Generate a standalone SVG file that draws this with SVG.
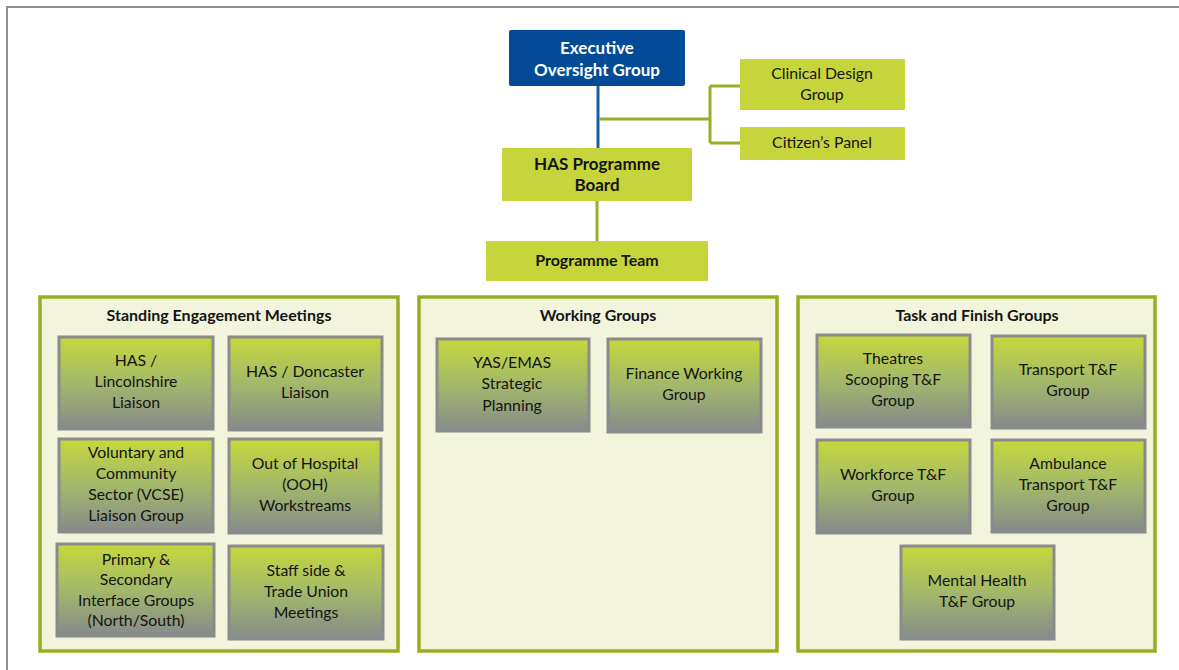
<svg xmlns="http://www.w3.org/2000/svg" width="1179" height="670" viewBox="0 0 1179 670">
<defs>
<linearGradient id="g" x1="0" y1="0" x2="0" y2="1">
<stop offset="0" stop-color="#c6d83c"/>
<stop offset="0.5" stop-color="#a3b86a"/>
<stop offset="1" stop-color="#878a8b"/>
</linearGradient>
<style>
.t{font-family:Lato,"Liberation Sans",sans-serif;font-size:15.8px;fill:#141414;text-anchor:middle}
.b{font-weight:bold;font-size:16px}
.h{font-size:17px}
.w{fill:#ffffff}
.top{fill:#c5d53b}
.panel{fill:#f2f5dc;stroke:#9aad22;stroke-width:3.5}
.box{fill:url(#g);stroke:#8a8b8c;stroke-width:3}
.conn{fill:none;stroke:#9aad2a;stroke-width:3}
</style>
</defs>
<rect width="1179" height="670" fill="#ffffff"/>
<path d="M7,670 V7 H1179" fill="none" stroke="#8c8f92" stroke-width="2"/>

<g id="connectors">
<line x1="598" y1="86" x2="598" y2="148" stroke="#1f5aa6" stroke-width="3"/>
<path class="conn" d="M599,119 H710 M710,86 V143 M710,86 H740 M710,143 H740"/>
<line class="conn" x1="597" y1="201" x2="597" y2="241"/>
</g>

<g id="exec">
<rect x="509" y="30" width="176" height="56" rx="2" fill="#034a97"/>
<text class="t b h w" x="597" y="54">Executive</text>
<text class="t b h w" x="597" y="76">Oversight Group</text>
</g>
<g id="clinical">
<rect class="top" x="740" y="59" width="165" height="51" rx="1"/>
<text class="t" x="822" y="79">Clinical Design</text>
<text class="t" x="822" y="100">Group</text>
</g>
<g id="citizens">
<rect class="top" x="740" y="127" width="165" height="33" rx="1"/>
<text class="t" x="822" y="148">Citizen’s Panel</text>
</g>
<g id="board">
<rect class="top" x="502" y="148" width="190" height="53" rx="1"/>
<text class="t b h" x="597" y="170">HAS Programme</text>
<text class="t b h" x="597" y="191">Board</text>
</g>
<g id="team">
<rect class="top" x="486" y="241" width="222" height="40" rx="1"/>
<text class="t b" x="597" y="266" font-size="16.5">Programme Team</text>
</g>

<g id="panel-standing">
<rect class="panel" x="40" y="297" width="358" height="354"/>
<text class="t b" x="219" y="321">Standing Engagement Meetings</text>
</g>
<g id="panel-working">
<rect class="panel" x="419" y="297" width="358" height="354"/>
<text class="t b" x="598" y="321">Working Groups</text>
</g>
<g id="panel-task">
<rect class="panel" x="798" y="297" width="357" height="354"/>
<text class="t b" x="977" y="321">Task and Finish Groups</text>
</g>

<g id="lincolnshire">
<rect class="box" x="59" y="337" width="154" height="92"/>
<text class="t" x="136" y="366">HAS /</text>
<text class="t" x="136" y="387">Lincolnshire</text>
<text class="t" x="136" y="408">Liaison</text>
</g>
<g id="doncaster">
<rect class="box" x="229" y="337" width="153" height="93"/>
<text class="t" x="305" y="377">HAS / Doncaster</text>
<text class="t" x="305" y="398">Liaison</text>
</g>
<g id="vcse">
<rect class="box" x="59" y="439" width="154" height="93"/>
<text class="t" x="136" y="458">Voluntary and</text>
<text class="t" x="136" y="479">Community</text>
<text class="t" x="136" y="500">Sector (VCSE)</text>
<text class="t" x="136" y="521">Liaison Group</text>
</g>
<g id="ooh">
<rect class="box" x="229" y="439" width="152" height="94"/>
<text class="t" x="305" y="469">Out of Hospital</text>
<text class="t" x="305" y="490">(OOH)</text>
<text class="t" x="305" y="511">Workstreams</text>
</g>
<g id="primary">
<rect class="box" x="57" y="544" width="157" height="92"/>
<text class="t" x="136" y="565">Primary &amp;</text>
<text class="t" x="136" y="585">Secondary</text>
<text class="t" x="136" y="606">Interface Groups</text>
<text class="t" x="136" y="626">(North/South)</text>
</g>
<g id="staffside">
<rect class="box" x="229" y="546" width="154" height="93"/>
<text class="t" x="306" y="576">Staff side &amp;</text>
<text class="t" x="306" y="597">Trade Union</text>
<text class="t" x="306" y="618">Meetings</text>
</g>

<g id="yas">
<rect class="box" x="437" y="339" width="152" height="92"/>
<text class="t" x="512" y="368">YAS/EMAS</text>
<text class="t" x="512" y="389">Strategic</text>
<text class="t" x="512" y="411">Planning</text>
</g>
<g id="finance">
<rect class="box" x="608" y="339" width="153" height="93"/>
<text class="t" x="684" y="379">Finance Working</text>
<text class="t" x="684" y="400">Group</text>
</g>

<g id="theatres">
<rect class="box" x="817" y="335" width="153" height="92"/>
<text class="t" x="893" y="364">Theatres</text>
<text class="t" x="893" y="385">Scooping T&amp;F</text>
<text class="t" x="893" y="406">Group</text>
</g>
<g id="transport">
<rect class="box" x="992" y="336" width="153" height="92"/>
<text class="t" x="1068" y="375">Transport T&amp;F</text>
<text class="t" x="1068" y="396">Group</text>
</g>
<g id="workforce">
<rect class="box" x="817" y="440" width="153" height="93"/>
<text class="t" x="893" y="480">Workforce T&amp;F</text>
<text class="t" x="893" y="501">Group</text>
</g>
<g id="ambulance">
<rect class="box" x="992" y="440" width="153" height="92"/>
<text class="t" x="1068" y="469">Ambulance</text>
<text class="t" x="1068" y="490">Transport T&amp;F</text>
<text class="t" x="1068" y="511">Group</text>
</g>
<g id="mentalhealth">
<rect class="box" x="901" y="546" width="153" height="93"/>
<text class="t" x="977" y="586">Mental Health</text>
<text class="t" x="977" y="607">T&amp;F Group</text>
</g>
</svg>
